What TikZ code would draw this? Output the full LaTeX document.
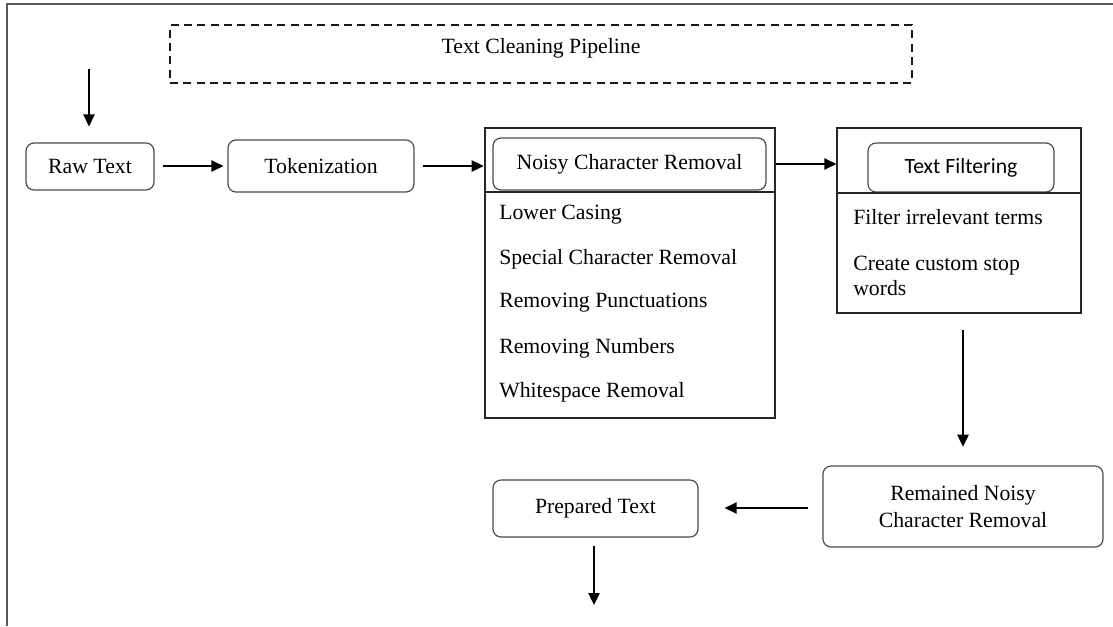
\documentclass[tikz,border=0pt]{standalone}
\usepackage{fontspec}
\setmainfont{Liberation Serif}
\newfontfamily\filterfont{Carlito}
\usetikzlibrary{arrows.meta}

\tikzset{
  lbl/.style={font=\fontsize{16.3}{19}\selectfont, text=black},
  roundbox/.style={draw=black!70, line width=0.9pt, rounded corners=6pt,
                   align=center, inner sep=0pt, lbl},
  panel/.style={draw=black!85, line width=0.9pt, inner sep=0pt},
  dashbox/.style={draw=black!90, line width=1.1pt, dash pattern=on 6pt off 4pt, inner sep=0pt},
  item/.style={lbl, anchor=west, inner sep=0pt},
  arr/.style={draw=black, line width=1pt, -{Triangle[length=9pt,width=8.5pt]}},
}

\begin{document}
\begin{tikzpicture}[x=0.75pt, y=-0.75pt]
  \useasboundingbox (0,0) rectangle (1113,626);

  % open outer frame: top and left sides
  \draw[draw=black!65, line width=1.4pt] (1113,4) -- (7,4) -- (7,626);

  % title band
  \node[dashbox, minimum width=556.5pt, minimum height=43.5pt] (pipe) at (541,54) {};
  \node[lbl] (pipetitle) at (541,48) {Text Cleaning Pipeline};

  % first row
  \coordinate (start) at (89,69);
  \node[roundbox, minimum width=96pt, minimum height=35.25pt] (raw) at (90,166.5) {Raw Text};
  \node[roundbox, minimum width=139.5pt, minimum height=39pt] (tok) at (321,166) {Tokenization};

  % noisy character removal panel
  \node[panel, minimum width=217.5pt, minimum height=217.5pt] (noisybox) at (630,273) {};
  \node[roundbox, minimum width=204.75pt, minimum height=39pt] (noisy) at (629.5,164) {Noisy Character Removal};
  \coordinate (ndiv) at (0,192);
  \draw[panel] (noisybox.west |- ndiv) -- (noisybox.east |- ndiv);
  \node[item] (n1) at (499,215) {Lower Casing};
  \node[item] (n2) at (499,259) {Special Character Removal};
  \node[item] (n3) at (499,303) {Removing Punctuations};
  \node[item] (n4) at (499,348) {Removing Numbers};
  \node[item] (n5) at (499,392) {Whitespace Removal};

  % text filtering panel
  \node[panel, minimum width=183pt, minimum height=138.75pt] (filterbox) at (959,220.5) {};
  \node[roundbox, minimum width=139.5pt, minimum height=36.75pt, font=\filterfont\fontsize{16.3}{19}\selectfont] (filter) at (961,167.5) {Text Filtering};
  \coordinate (fdiv) at (0,193);
  \draw[panel] (filterbox.west |- fdiv) -- (filterbox.east |- fdiv);
  \node[item] (f1) at (853,217) {Filter irrelevant terms};
  \node[item, align=left] (f2) at (853,276) {Create custom stop\\[-0.5pt]words};

  % last row
  \node[roundbox, minimum width=210pt, minimum height=60.75pt] (remained) at (963,506.5) {Remained Noisy\\[1pt]Character Removal};
  \node[roundbox, minimum width=153.75pt, minimum height=42.75pt] (prepared) at (595.5,508.5) {Prepared Text};
  \coordinate (finish) at (594,605);

  % connectors
  \draw[arr, shorten >=12pt] (start) -- (start |- raw.north);
  \draw[arr, shorten <=6pt, shorten >=3pt] (raw.east |- tok) -- (tok.west);
  \draw[arr, shorten <=6pt, shorten >=0.5pt] (tok.east) -- (noisybox.west |- tok);
  \draw[arr] (noisybox.east |- noisy) -- (filterbox.west |- noisy);
  \draw[arr, shorten <=12.5pt, shorten >=14pt] (filterbox.south -| remained.north) -- (remained.north);
  \coordinate (rowlow) at (0,508);
  \draw[arr, shorten <=10.5pt, shorten >=19.5pt] (remained.west |- rowlow) -- (prepared.east |- rowlow);
  \draw[arr, shorten <=6.5pt] (prepared.south -| finish) -- (finish);
\end{tikzpicture}
\end{document}
